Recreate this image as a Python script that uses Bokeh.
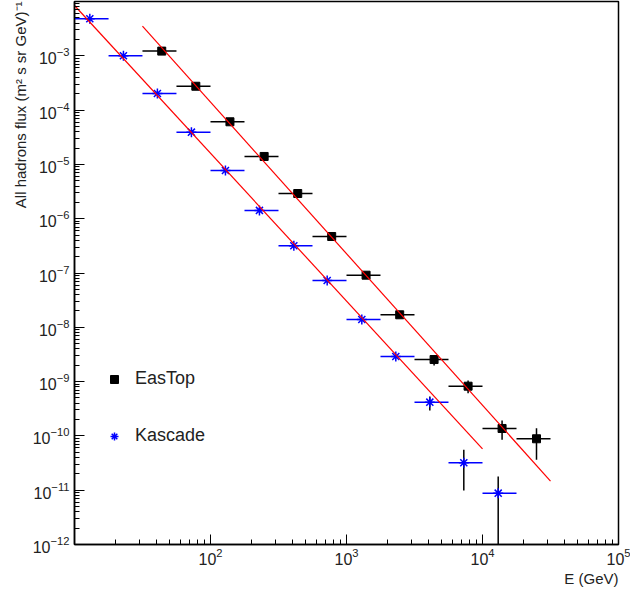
from bokeh.plotting import figure
from bokeh.models import Legend, LegendItem, Title, FixedTicker
from bokeh.embed import file_html
from bokeh.resources import INLINE

# ---- EasTop data ----
eastop_E = [43.8, 78.0, 139, 248, 438, 778, 1393, 2461, 4406, 7834, 13930, 24950]
eastop_E_lo = [31.6, 56.2, 100, 177.8, 316.2, 562.3, 1000, 1778, 3162, 5623, 10000, 17783]
eastop_E_hi = [56.2, 100, 177.8, 316.2, 562.3, 1000, 1778, 3162, 5623, 10000, 17783, 31623]
eastop_flux = [1.22e-3, 2.75e-4, 6.09e-5, 1.40e-5, 2.91e-6, 4.70e-7, 9.11e-8, 1.70e-8,
               2.55e-9, 8.23e-10, 1.37e-10, 8.85e-11]
eastop_flux_lo = [1.17e-3, 2.63e-4, 5.80e-5, 1.33e-5, 2.77e-6, 4.45e-7, 8.40e-8, 1.55e-8,
                  1.98e-9, 6.11e-10, 8.47e-11, 3.63e-11]
eastop_flux_hi = [1.27e-3, 2.87e-4, 6.40e-5, 1.47e-5, 3.05e-6, 4.95e-7, 9.80e-8, 1.85e-8,
                  3.03e-9, 1.05e-9, 1.92e-10, 1.39e-10]

# ---- Kascade data ----
kascade_E = [12.96, 22.9, 40.7, 72.4, 128.8, 229, 410, 721, 1296, 2304, 4098, 7287, 13044]
kascade_E_lo = [10, 17.8, 31.6, 56.2, 100, 177.8, 316.2, 562.3, 1000, 1778, 3162, 5623, 10000]
kascade_E_hi = [17.8, 31.6, 56.2, 100, 177.8, 316.2, 562.3, 1000, 1778, 3162, 5623, 10000, 17783]
kascade_flux = [4.80e-3, 1.00e-3, 2.02e-4, 3.92e-5, 7.73e-6, 1.42e-6, 3.17e-7, 7.28e-8,
                1.39e-8, 2.90e-9, 4.18e-10, 3.20e-11, 8.81e-12]
kascade_flux_lo = [4.70e-3, 0.98e-3, 1.98e-4, 3.84e-5, 7.57e-6, 1.39e-6, 3.10e-7, 7.10e-8,
                   1.35e-8, 2.80e-9, 2.94e-10, 9.87e-12, 1e-13]
kascade_flux_hi = [4.90e-3, 1.02e-3, 2.06e-4, 4.00e-5, 7.89e-6, 1.45e-6, 3.24e-7, 7.46e-8,
                   1.43e-8, 3.00e-9, 5.32e-10, 5.55e-11, 1.79e-11]

# ---- power-law fit lines (endpoints) ----
kascade_fit_E = [10, 10000]
kascade_fit_flux = [8.44e-3, 5.79e-11]
eastop_fit_E = [31.6, 31623]
eastop_fit_flux = [3.51e-3, 1.47e-11]

# ---- axis ticks ----
x_major_ticks = [1e2, 1e3, 1e4, 1e5]
y_major_ticks = [1e-12, 1e-11, 1e-10, 1e-9, 1e-8, 1e-7, 1e-6, 1e-5, 1e-4, 1e-3]
x_decades = [1e1, 1e2, 1e3, 1e4]
y_decades = [1e-12, 1e-11, 1e-10, 1e-9, 1e-8, 1e-7, 1e-6, 1e-5, 1e-4, 1e-3]
x_minor_ticks = [k * d for d in x_decades for k in range(2, 10)]
y_minor_ticks = [k * d for d in y_decades for k in range(2, 10)]

FONT = "Liberation Sans"

p = figure(width=630, height=590, x_axis_type="log", y_axis_type="log",
           x_range=(10, 1e5), y_range=(1e-12, 1e-2),
           output_backend="svg", toolbar_location=None,
           min_border_left=74, min_border_right=12, min_border_top=1, min_border_bottom=46)
p.xgrid.visible = False
p.ygrid.visible = False
p.outline_line_color = "black"
p.outline_line_width = 1.5
p.background_fill_color = "white"
p.border_fill_color = "white"

p.xaxis[0].ticker = FixedTicker(ticks=x_major_ticks, minor_ticks=x_minor_ticks)
p.yaxis[0].ticker = FixedTicker(ticks=y_major_ticks, minor_ticks=y_minor_ticks)

for ax in (p.xaxis[0], p.yaxis[0]):
    ax.major_tick_in = 10
    ax.major_tick_out = 0
    ax.minor_tick_in = 5
    ax.minor_tick_out = 0
    ax.axis_line_width = 1.5
    ax.axis_line_color = "black"
    ax.major_tick_line_color = "black"
    ax.minor_tick_line_color = "black"
    ax.major_label_text_font = FONT
    ax.major_label_text_font_size = "16px"
    ax.major_label_text_color = "#222222"

p.yaxis.major_label_standoff = 5
p.xaxis.major_label_standoff = 3

# error bars
p.segment(x0=eastop_E_lo, x1=eastop_E_hi, y0=eastop_flux, y1=eastop_flux,
          line_color="black", line_width=1.5)
p.segment(x0=eastop_E, x1=eastop_E, y0=eastop_flux_lo, y1=eastop_flux_hi,
          line_color="black", line_width=1.5)
p.segment(x0=kascade_E_lo, x1=kascade_E_hi, y0=kascade_flux, y1=kascade_flux,
          line_color="blue", line_width=1.5)
p.segment(x0=kascade_E, x1=kascade_E, y0=kascade_flux_lo, y1=kascade_flux_hi,
          line_color="black", line_width=1.5)

sq = p.scatter(eastop_E, eastop_flux, marker="square", size=8, color="black")
st = p.scatter(kascade_E, kascade_flux, marker="asterisk", size=10, line_color="blue",
               line_width=1.5)

p.line(kascade_fit_E, kascade_fit_flux, line_color="red", line_width=1.2)
p.line(eastop_fit_E, eastop_fit_flux, line_color="red", line_width=1.2)

legend = Legend(items=[LegendItem(label="EasTop", renderers=[sq]),
                       LegendItem(label="Kascade", renderers=[st])],
                location=(30, 98), border_line_color=None, background_fill_alpha=0,
                label_text_font_size="18px", label_text_font=FONT,
                label_text_color="#222222",
                glyph_width=20, glyph_height=20, label_height=20, spacing=36,
                padding=0, margin=0, label_standoff=11)
p.add_layout(legend)

ytitle = Title(text="All hadrons flux (m² s sr GeV)⁻¹", align="right",
               text_font_size="15px", text_font_style="normal", text_font=FONT,
               text_color="#222222", standoff=2)
p.add_layout(ytitle, "left")
xtitle = Title(text="E (GeV)", align="right", text_font_size="15px",
               text_font_style="normal", text_font=FONT, text_color="#222222",
               standoff=0)
p.add_layout(xtitle, "below")

open("out.html", "w").write(file_html(p, INLINE))
